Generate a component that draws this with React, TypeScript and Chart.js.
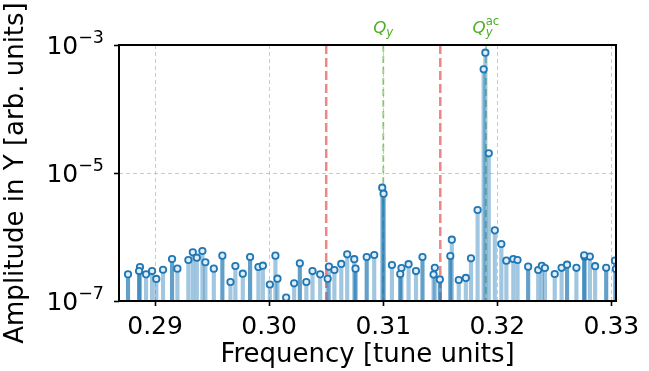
import React, { useEffect, useRef } from 'react';
import { Chart, registerables } from 'chart.js';

Chart.register(...registerables);

// Spectrum stems, darker set (frequency in tune units, amplitude in arb. units)
const FREQ_A = [
  0.28763, 0.2886, 0.29149, 0.2959, 0.29833, 0.30269, 0.30757, 0.30855, 0.31003,
  0.31149, 0.31344, 0.31496, 0.31588, 0.3227, 0.32611, 0.32761, 0.32954,
];
const AMP_A = [
  2.61e-7, 2.94e-7, 4.53e-7, 5.11e-7, 4.87e-7, 3.88e-7, 3.2e-7, 4.87e-7, 4.75e-6,
  2.64e-7, 4.87e-7, 2.17e-7, 5.05e-7, 3.44e-7, 3.69e-7, 5.18e-7, 3.3e-7,
];

// Spectrum stems, lighter set
const FREQ_B = [
  0.28868, 0.28921, 0.28974, 0.29011, 0.2907, 0.29196, 0.29292, 0.29331, 0.29366,
  0.29415, 0.29441, 0.29515, 0.29661, 0.29704, 0.29769, 0.29906, 0.29945, 0.30006,
  0.30055, 0.30073, 0.30149, 0.30219, 0.30326, 0.3038, 0.30447, 0.30513, 0.30524,
  0.30572, 0.30632, 0.30684, 0.30746, 0.30921, 0.30991, 0.31076, 0.3116, 0.31222,
  0.31287, 0.31441, 0.31452, 0.31601, 0.31662, 0.31724, 0.31769, 0.31827, 0.3188,
  0.31895, 0.31925, 0.31978, 0.32035, 0.32079, 0.3214, 0.32177, 0.32358, 0.3239,
  0.32417, 0.32503, 0.32563, 0.32693, 0.32765, 0.32811, 0.32857, 0.33031, 0.33039,
];
const AMP_B = [
  3.4e-7, 2.61e-7, 2.94e-7, 2.21e-7, 3.08e-7, 3.2e-7, 4.37e-7, 5.77e-7, 4.75e-7,
  6.04e-7, 4.03e-7, 3.2e-7, 1.98e-7, 3.52e-7, 2.67e-7, 3.4e-7, 3.56e-7, 1.81e-7,
  5.11e-7, 2.23e-7, 1.13e-7, 1.89e-7, 1.98e-7, 2.94e-7, 2.61e-7, 2.22e-7, 3.44e-7,
  3.05e-7, 3.79e-7, 5.37e-7, 4.5e-7, 5.23e-7, 5.89e-6, 3.65e-7, 3.28e-7, 3.76e-7,
  2.94e-7, 2.59e-7, 3.31e-7, 9.08e-7, 2.13e-7, 2.29e-7, 4.65e-7, 2.64e-6, 4.17e-4,
  7.58e-4, 2.03e-5, 1.27e-6, 7.78e-7, 4.27e-7, 4.53e-7, 4.37e-7, 3.05e-7, 3.55e-7,
  3.28e-7, 2.64e-7, 3.3e-7, 3.3e-7, 4.92e-7, 4.95e-7, 3.5e-7, 4.27e-7, 3.16e-7,
];

const X_MIN = 0.28684;
const X_MAX = 0.3304;
const Y_MIN = 1e-7;
const Y_MAX = 1e-3;
const X_TICKS = [0.29, 0.3, 0.31, 0.32, 0.33];
const Y_TICKS = [1e-7, 1e-5, 1e-3];

// Analysis window edges and tune markers
const WINDOW_EDGES = [0.305, 0.315];
const TUNE_LINES = [0.31, 0.319];
const TUNE_SUB = ['y', 'y'];
const TUNE_SUP = ['', 'ac'];

const FONT = 'DejaVu Sans';
const BLUE = 'rgb(31,119,180)';
const GREEN_TEXT = 'rgb(77,175,38)';

const stemPoints = (fx: number[], amp: number[]) =>
  fx.map((f, i) => ({ x: f, y: [Y_MIN, amp[i]] }));
const markerPoints = (fx: number[], amp: number[]) =>
  fx.map((f, i) => ({ x: f, y: amp[i] }));

const refLinesPlugin = {
  id: 'refLines',
  beforeDatasetsDraw(chart: any) {
    const { ctx, chartArea, scales } = chart;
    const xs = scales.x;
    ctx.save();
    ctx.beginPath();
    ctx.rect(chartArea.left, chartArea.top, chartArea.right - chartArea.left, chartArea.bottom - chartArea.top);
    ctx.clip();
    WINDOW_EDGES.forEach((v) => {
      const px = xs.getPixelForValue(v);
      ctx.strokeStyle = 'rgba(236,112,112,0.85)';
      ctx.lineWidth = 2.5;
      ctx.setLineDash([9, 4]);
      ctx.beginPath();
      ctx.moveTo(px, chartArea.top);
      ctx.lineTo(px, chartArea.bottom);
      ctx.stroke();
    });
    TUNE_LINES.forEach((v) => {
      const px = xs.getPixelForValue(v);
      ctx.strokeStyle = 'rgba(90,175,60,0.55)';
      ctx.lineWidth = 2;
      ctx.setLineDash([7, 4]);
      ctx.beginPath();
      ctx.moveTo(px, chartArea.top);
      ctx.lineTo(px, chartArea.bottom);
      ctx.stroke();
    });
    ctx.restore();
  },
};

const framePlugin = {
  id: 'frame',
  afterDatasetsDraw(chart: any) {
    const { ctx, chartArea } = chart;
    ctx.save();
    ctx.strokeStyle = '#000';
    ctx.lineWidth = 2;
    ctx.setLineDash([]);
    ctx.strokeRect(chartArea.left, chartArea.top, chartArea.right - chartArea.left, chartArea.bottom - chartArea.top);
    ctx.restore();
  },
};

const labelsPlugin = {
  id: 'mathLabels',
  afterDraw(chart: any) {
    const { ctx, chartArea, scales } = chart;
    ctx.save();
    ctx.fillStyle = '#000';
    ctx.textBaseline = 'alphabetic';
    ctx.textAlign = 'left';
    // y tick labels written as powers of ten
    const base = 25;
    const sup = 17.5;
    Y_TICKS.forEach((v) => {
      const py = scales.y.getPixelForValue(v);
      const exp = '\u2212' + String(Math.round(-Math.log10(v)));
      ctx.font = `${sup}px "${FONT}"`;
      const ws = ctx.measureText(exp).width;
      ctx.font = `${base}px "${FONT}"`;
      const wb = ctx.measureText('10').width;
      const right = chartArea.left - 15;
      const baseline = py + 9;
      ctx.fillText('10', right - ws - wb, baseline);
      ctx.font = `${sup}px "${FONT}"`;
      ctx.fillText(exp, right - ws, baseline - 11);
    });
    // tune labels above the frame
    ctx.fillStyle = GREEN_TEXT;
    TUNE_LINES.forEach((v, i) => {
      const px = scales.x.getPixelForValue(v);
      const qSize = 16.7;
      const sSize = 11.7;
      ctx.font = `italic ${qSize}px "${FONT}"`;
      const wq = ctx.measureText('Q').width;
      ctx.font = `italic ${sSize}px "${FONT}"`;
      const wsub = ctx.measureText(TUNE_SUB[i]).width;
      ctx.font = `${sSize}px "${FONT}"`;
      const wsup = TUNE_SUP[i] ? ctx.measureText(TUNE_SUP[i]).width : 0;
      const total = wq + Math.max(wsub, wsup);
      const x0 = px - total / 2;
      const baseline = 33;
      ctx.font = `italic ${qSize}px "${FONT}"`;
      ctx.fillText('Q', x0, baseline);
      ctx.font = `italic ${sSize}px "${FONT}"`;
      ctx.fillText(TUNE_SUB[i], x0 + wq, baseline + 3);
      if (TUNE_SUP[i]) {
        ctx.font = `${sSize}px "${FONT}"`;
        ctx.fillText(TUNE_SUP[i], x0 + wq, baseline - 8);
      }
    });
    ctx.restore();
  },
};

export default function App() {
  const canvasRef = useRef<HTMLCanvasElement | null>(null);

  useEffect(() => {
    document.body.style.margin = '0';
    const canvas = canvasRef.current;
    if (!canvas) return;
    const stemCommon = {
      type: 'bar' as const,
      barThickness: 3.5,
      borderWidth: 0,
      grouped: false,
    };
    const markerCommon = {
      type: 'scatter' as const,
      pointRadius: 3.2,
      pointBorderWidth: 1.8,
      pointBorderColor: BLUE,
      pointBackgroundColor: 'rgba(225,237,248,1)',
      pointHoverRadius: 3.2,
      showLine: false,
      order: 0,
    };
    const chart = new Chart(canvas, {
      type: 'bar',
      data: {
        datasets: [
          { ...markerCommon, data: markerPoints(FREQ_A, AMP_A) } as any,
          { ...markerCommon, data: markerPoints(FREQ_B, AMP_B) } as any,
          { ...stemCommon, data: stemPoints(FREQ_A, AMP_A), backgroundColor: 'rgba(31,119,180,0.7)', order: 1 } as any,
          { ...stemCommon, data: stemPoints(FREQ_B, AMP_B), backgroundColor: 'rgba(31,119,180,0.42)', order: 2 } as any,
        ],
      },
      options: {
        animation: false,
        responsive: false,
        devicePixelRatio: 1,
        layout: { padding: { top: 45, right: 33, left: 0, bottom: 0 } },
        plugins: { legend: { display: false }, tooltip: { enabled: false } },
        scales: {
          x: {
            type: 'linear',
            min: X_MIN,
            max: X_MAX,
            offset: false,
            afterBuildTicks: (s: any) => {
              s.ticks = X_TICKS.map((v) => ({ value: v }));
            },
            afterFit: (s: any) => {
              s.height = 70;
            },
            ticks: {
              autoSkip: false,
              maxRotation: 0,
              padding: 6,
              color: '#000',
              font: { family: FONT, size: 25 },
              callback: (v: any) => Number(v).toFixed(2),
            },
            grid: {
              offset: false,
              color: 'rgba(190,190,190,0.8)',
              lineWidth: 1,
              drawTicks: true,
              tickLength: 5,
              tickColor: '#000',
              tickWidth: 1.6,
            },
            border: { display: false, dash: [4, 3] },
            title: {
              display: true,
              text: 'Frequency [tune units]',
              color: '#000',
              font: { family: FONT, size: 26 },
              padding: { top: 0, bottom: 0 },
            },
          },
          y: {
            type: 'logarithmic',
            min: Y_MIN,
            max: Y_MAX,
            afterBuildTicks: (s: any) => {
              s.ticks = Y_TICKS.map((v) => ({ value: v }));
            },
            afterFit: (s: any) => {
              s.width = 119;
            },
            ticks: {
              autoSkip: false,
              callback: () => '',
            },
            grid: {
              color: 'rgba(190,190,190,0.8)',
              lineWidth: 1,
              drawTicks: true,
              tickLength: 5,
              tickColor: '#000',
              tickWidth: 1.6,
            },
            border: { display: false, dash: [4, 3] },
            title: {
              display: true,
              text: 'Amplitude in Y [arb. units]',
              color: '#000',
              font: { family: FONT, size: 26 },
              padding: { top: 1, bottom: 0 },
            },
          },
        },
      },
      plugins: [refLinesPlugin, framePlugin, labelsPlugin],
    });
    return () => chart.destroy();
  }, []);

  return (
    <div style={{ position: 'fixed', left: 0, top: 0, width: 649, height: 371, background: '#fff' }}>
      <canvas ref={canvasRef} width={649} height={371} style={{ width: 649, height: 371 }} />
    </div>
  );
}
